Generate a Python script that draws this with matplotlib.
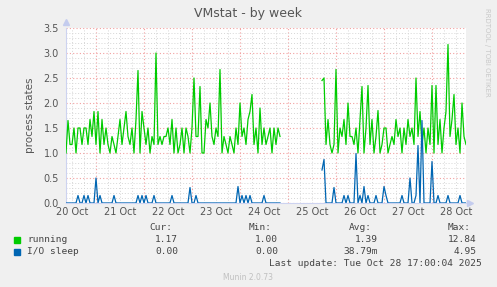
import numpy as np
import matplotlib
matplotlib.use('Agg')
import matplotlib.pyplot as plt

# hours since 20 Oct 09:00, one sample per hour up to 28 Oct 17:00
hours = np.arange(0, 201)
nan = np.nan

running = [
    1.00, 1.65, 1.17, 1.17, 1.50, 1.00, 1.50, 1.50, 1.17, 1.50,
    1.50, 1.17, 1.67, 1.33, 1.83, 1.17, 1.83, 1.00, 1.67, 1.17,
    1.50, 1.17, 1.00, 1.33, 1.17, 1.00, 1.33, 1.67, 1.17, 1.50,
    1.83, 1.33, 1.17, 1.50, 1.00, 1.67, 2.65, 1.00, 1.83, 1.50,
    1.17, 1.50, 1.00, 1.33, 1.17, 3.00, 1.17, 1.33, 1.17, 1.33,
    1.33, 1.50, 1.17, 1.67, 1.00, 1.50, 1.00, 1.17, 1.50, 1.00,
    1.50, 1.33, 1.00, 1.50, 2.50, 1.33, 1.33, 2.33, 1.00, 1.00,
    1.67, 1.50, 2.00, 1.33, 1.17, 1.50, 1.33, 2.67, 1.00, 1.33,
    1.17, 1.00, 1.33, 1.17, 1.00, 1.50, 1.17, 2.00, 1.33, 1.50,
    1.17, 1.67, 1.83, 2.17, 1.17, 1.50, 1.00, 1.90, 1.17, 1.50,
    1.17, 1.33, 1.50, 1.00, 1.50, 1.17, 1.50, 1.33, nan, nan,
    nan, nan, nan, nan, nan, nan, nan, nan, nan, nan,
    nan, nan, nan, nan, nan, nan, nan, nan, 2.45, 2.50,
    1.17, 1.67, 1.17, 1.00, 1.17, 2.67, 1.00, 1.50, 1.33, 1.67,
    1.17, 2.00, 1.33, 1.33, 1.17, 1.50, 1.00, 1.67, 2.33, 1.00,
    1.50, 2.35, 1.17, 1.67, 1.00, 1.33, 1.85, 1.00, 1.17, 1.50,
    1.50, 1.00, 1.17, 1.33, 1.17, 1.67, 1.33, 1.50, 1.00, 1.50,
    1.17, 1.67, 1.33, 1.50, 1.17, 2.50, 1.33, 1.83, 1.17, 1.50,
    1.00, 1.50, 1.17, 2.35, 1.00, 2.35, 1.17, 1.67, 1.00, 1.50,
    1.83, 3.17, 1.33, 1.67, 2.17, 1.17, 1.50, 1.00, 2.00, 1.33,
    1.17,
]

io_sleep = [
    0.00, 0.00, 0.00, 0.00, 0.00, 0.00, 0.15, 0.00, 0.00, 0.15,
    0.00, 0.15, 0.00, 0.00, 0.00, 0.50, 0.00, 0.15, 0.00, 0.00,
    0.00, 0.00, 0.00, 0.00, 0.15, 0.00, 0.00, 0.00, 0.00, 0.00,
    0.00, 0.00, 0.00, 0.00, 0.00, 0.00, 0.15, 0.00, 0.15, 0.00,
    0.15, 0.00, 0.00, 0.00, 0.15, 0.00, 0.00, 0.00, 0.00, 0.00,
    0.00, 0.00, 0.00, 0.15, 0.00, 0.00, 0.00, 0.00, 0.00, 0.00,
    0.00, 0.00, 0.31, 0.00, 0.00, 0.15, 0.00, 0.00, 0.00, 0.00,
    0.00, 0.00, 0.00, 0.00, 0.00, 0.00, 0.00, 0.00, 0.00, 0.00,
    0.00, 0.00, 0.00, 0.00, 0.00, 0.00, 0.33, 0.00, 0.15, 0.00,
    0.15, 0.00, 0.15, 0.00, 0.00, 0.00, 0.00, 0.00, 0.00, 0.15,
    0.00, 0.00, 0.00, 0.00, 0.00, 0.00, 0.00, 0.00, nan, nan,
    nan, nan, nan, nan, nan, nan, nan, nan, nan, nan,
    nan, nan, nan, nan, nan, nan, nan, nan, 0.66, 0.87,
    0.00, 0.00, 0.00, 0.00, 0.31, 0.00, 0.00, 0.00, 0.00, 0.15,
    0.00, 0.15, 0.00, 0.00, 0.00, 0.99, 0.00, 0.15, 0.00, 0.33,
    0.00, 0.15, 0.00, 0.00, 0.00, 0.15, 0.00, 0.00, 0.00, 0.33,
    0.15, 0.00, 0.00, 0.00, 0.00, 0.00, 0.00, 0.00, 0.15, 0.00,
    0.00, 0.00, 0.50, 0.00, 0.00, 0.15, 1.15, 0.00, 1.65, 0.00,
    0.00, 0.00, 0.00, 0.83, 0.00, 0.00, 0.15, 0.00, 0.00, 0.00,
    0.00, 0.15, 0.00, 0.00, 0.00, 0.00, 0.00, 0.15, 0.00, 0.00,
    0.00,
]

day_labels = ['20 Oct', '21 Oct', '22 Oct', '23 Oct', '24 Oct',
              '25 Oct', '26 Oct', '27 Oct', '28 Oct']
y_ticks = [0.0, 0.5, 1.0, 1.5, 2.0, 2.5, 3.0, 3.5]

legend_names = ['running', 'I/O sleep']
legend_colors = ['#00CC00', '#0066B3']
cur_vals = ['1.17', '0.00']
min_vals = ['1.00', '0.00']
avg_vals = ['1.39', '38.79m']
max_vals = ['12.84', '4.95']

W, H = 497, 287
fig = plt.figure(figsize=(W / 100, H / 100), dpi=100, facecolor='#F0F0F0')
ax = fig.add_axes([66 / W, 1 - 203 / H, 400 / W, 175 / H])
ax.set_facecolor('white')

ax.plot(hours, running, color=legend_colors[0], lw=0.9, zorder=3)
ax.plot(hours, io_sleep, color=legend_colors[1], lw=0.9, zorder=3)

ax.set_xlim(0, 200)
ax.set_ylim(0, 3.5)

# midnight = major (red) grid, 6h = minor grid; labels at noon
midnights = np.arange(15, 201, 24)
ax.set_xticks(midnights)
ax.set_xticks(np.arange(3, 201, 6), minor=True)
ax.set_xticklabels([])
ax.set_yticks(y_ticks)
ax.set_yticks(np.arange(0, 3.51, 0.1), minor=True)
ax.set_yticklabels(['%.1f' % v for v in y_ticks], fontsize=7, color='#555555')
ax.tick_params(axis='both', which='both', length=0, pad=5)

ax.grid(which='minor', color='#D6D6D6', linestyle=(0, (1, 2)), lw=0.7)
ax.grid(which='major', color='#F2A0A0', linestyle=(0, (1, 2)), lw=0.8)
ax.set_axisbelow(True)

noons = np.arange(3, 201, 24)
for n, lab in zip(noons, day_labels):
    ax.text(n, -0.025, lab, transform=ax.get_xaxis_transform(), ha='center',
            va='top', fontsize=7, color='#555555')

for s in ['top', 'right']:
    ax.spines[s].set_visible(False)
for s in ['left', 'bottom']:
    ax.spines[s].set_color('#CDD3F0')
    ax.spines[s].set_linewidth(0.8)
ax.plot([0], [1.035], marker='^', color='#C4CCEE', ms=5, transform=ax.transAxes, clip_on=False)
ax.plot([1.01], [0], marker='>', color='#C4CCEE', ms=5, transform=ax.transAxes, clip_on=False)

ax.set_ylabel('process states', fontsize=7.5, color='#555555', labelpad=6)

fig.text(248 / W, 1 - 13 / H, 'VMstat - by week', ha='center', va='center',
         fontsize=9, color='#555555')
fig.text(487 / W, 1 - 52 / H, 'RRDTOOL / TOBI OETIKER', rotation=270,
         ha='center', va='center', fontsize=5, color='#C8C8C8')

mono = dict(family='DejaVu Sans Mono', fontsize=6.8, color='#444444')
cols = [(178, 'Cur:', cur_vals), (278, 'Min:', min_vals),
        (378, 'Avg:', avg_vals), (477, 'Max:', max_vals)]
for xr, head, vals in cols:
    fig.text((xr - 6) / W, 1 - 228 / H, head, ha='right', va='center', **mono)
    for i, v in enumerate(vals):
        fig.text(xr / W, 1 - (240 + 12 * i) / H, v, ha='right', va='center', **mono)
for i, (name, c) in enumerate(zip(legend_names, legend_colors)):
    y = 240 + 12 * i
    fig.patches.append(plt.Rectangle((14 / W, 1 - (y + 3) / H), 6 / W, 6 / H,
                                     color=c, transform=fig.transFigure))
    fig.text(27 / W, 1 - y / H, name, ha='left', va='center', **mono)
fig.text(482 / W, 1 - 264 / H, 'Last update: Tue Oct 28 17:00:04 2025',
         ha='right', va='center', **mono)
fig.text(248 / W, 1 - 277 / H, 'Munin 2.0.73', ha='center', va='center',
         fontsize=5.5, color='#C0C0C0')

fig.savefig('out.png', dpi=100, facecolor=fig.get_facecolor())
